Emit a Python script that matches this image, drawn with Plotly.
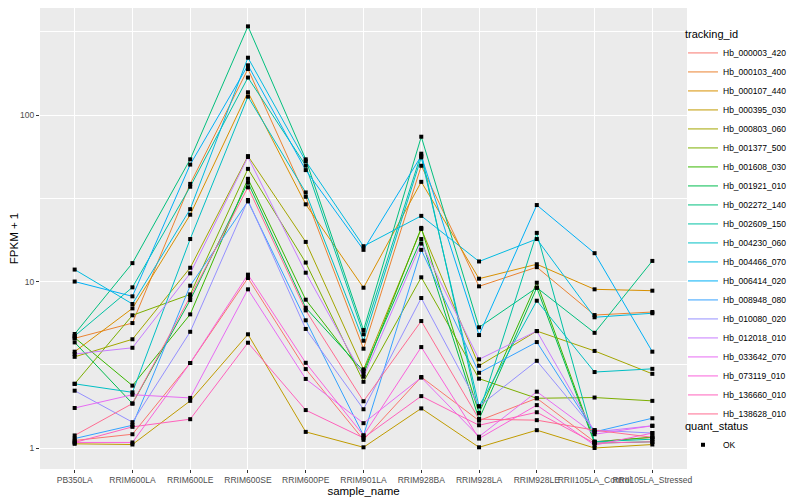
import plotly.graph_objects as go

samples = ["PB350LA", "RRIM600LA", "RRIM600LE", "RRIM600SE", "RRIM600PE", "RRIM901LA",
           "RRIM928BA", "RRIM928LA", "RRIM928LE", "RRII105LA_Control", "RRII105LA_Stressed"]

tracking_ids = ["Hb_000003_420", "Hb_000103_400", "Hb_000107_440", "Hb_000395_030", "Hb_000803_060",
                "Hb_001377_500", "Hb_001608_030", "Hb_001921_010", "Hb_002272_140", "Hb_002609_150",
                "Hb_004230_060", "Hb_004466_070", "Hb_006414_020", "Hb_008948_080", "Hb_010080_020",
                "Hb_012018_010", "Hb_033642_070", "Hb_073119_010", "Hb_136660_010", "Hb_138628_010"]

colors = ["#F8766D", "#EA8331", "#D89000", "#C09B00", "#A3A500", "#7CAE00", "#39B600", "#00BB4E",
          "#00BF7D", "#00C1A3", "#00BFC4", "#00BAE0", "#00B0F6", "#35A2FF", "#9590FF", "#C77CFF",
          "#E76BF3", "#FA62DB", "#FF62BC", "#FF6C91"]

# FPKM + 1 values per gene across samples
Hb_000003_420 = [1.11, 1.21, 3.24, 10.5, 2.98, 1.12, 2.67, 1.46, 1.99, 1.09, 1.16]
Hb_000103_400 = [4.56, 5.63, 38.6, 189, 32.3, 3.95, 49.6, 9.36, 12.2, 6.29, 6.56]
Hb_000107_440 = [3.79, 6.90, 25.2, 137, 29.1, 9.18, 39.7, 10.4, 12.7, 8.98, 8.81]
Hb_000395_030 = [1.06, 1.05, 1.92, 4.82, 1.25, 1.01, 1.73, 1.01, 1.28, 1.00, 1.05]
Hb_000803_060 = [3.53, 4.50, 12.1, 56.7, 17.3, 2.97, 20.7, 3.12, 5.04, 3.83, 2.79]
Hb_001377_500 = [2.43, 6.27, 8.37, 47.5, 13.0, 2.50, 10.6, 2.61, 1.99, 2.01, 1.92]
Hb_001608_030 = [4.60, 2.37, 6.35, 41.4, 7.78, 2.77, 21.0, 1.62, 9.84, 1.09, 1.16]
Hb_001921_010 = [4.31, 1.85, 7.74, 39.3, 6.96, 2.90, 18.0, 1.49, 9.18, 1.07, 1.09]
Hb_002272_140 = [4.84, 12.9, 54.2, 341, 54.2, 5.11, 74.1, 5.31, 9.18, 4.92, 13.3]
Hb_002609_150 = [4.71, 9.23, 37.1, 168, 49.7, 4.82, 58.6, 1.62, 19.6, 1.09, 1.13]
Hb_004230_060 = [2.43, 2.16, 18.0, 129, 34.3, 4.41, 55.7, 1.78, 7.67, 2.86, 2.99]
Hb_004466_070 = [11.8, 7.33, 27.2, 221, 52.8, 16.3, 24.8, 13.2, 18.0, 6.10, 6.45]
Hb_006414_020 = [10.0, 8.15, 50.4, 199, 46.7, 15.5, 56.9, 4.77, 28.8, 14.8, 3.79]
Hb_008948_080 = [1.14, 1.37, 9.44, 30.3, 5.85, 1.19, 15.5, 2.83, 4.33, 1.25, 1.51]
Hb_010080_020 = [2.21, 1.43, 4.99, 30.9, 5.19, 1.71, 7.96, 1.78, 3.34, 1.28, 1.23]
Hb_012018_010 = [3.67, 4.00, 11.2, 56.0, 11.3, 2.68, 16.9, 3.41, 5.04, 1.25, 1.36]
Hb_033642_070 = [1.74, 2.09, 2.00, 8.98, 2.60, 1.41, 2.65, 1.17, 2.18, 1.21, 1.36]
Hb_073119_010 = [1.08, 1.08, 3.24, 11.0, 3.25, 1.19, 4.04, 1.14, 1.81, 1.04, 1.23]
Hb_136660_010 = [1.08, 1.34, 1.49, 4.29, 1.69, 1.15, 2.05, 1.37, 1.64, 1.07, 1.09]
Hb_138628_010 = [1.19, 1.85, 8.11, 36.8, 6.71, 1.91, 5.79, 1.49, 1.47, 1.28, 1.16]

series = [Hb_000003_420, Hb_000103_400, Hb_000107_440, Hb_000395_030, Hb_000803_060,
          Hb_001377_500, Hb_001608_030, Hb_001921_010, Hb_002272_140, Hb_002609_150,
          Hb_004230_060, Hb_004466_070, Hb_006414_020, Hb_008948_080, Hb_010080_020,
          Hb_012018_010, Hb_033642_070, Hb_073119_010, Hb_136660_010, Hb_138628_010]

quant_status = ["OK"]

FONT = "Liberation Sans, Arial, sans-serif"

fig = go.Figure()
for name, vals, col in zip(tracking_ids, series, colors):
    fig.add_trace(go.Scatter(x=samples, y=vals, mode="lines", name=name,
                             line=dict(color=col, width=1), legend="legend"))

all_x = [s for _ in series for s in samples]
all_y = [v for vals in series for v in vals]
fig.add_trace(go.Scatter(x=all_x, y=all_y, mode="markers", name=quant_status[0],
                         marker=dict(symbol="square", size=4, color="black"),
                         legend="legend2"))

# the page body adds an 8px offset, so the figure is 792x492
fig.update_layout(
    width=792, height=492,
    margin=dict(l=32, r=113, t=0, b=31, autoexpand=False),
    paper_bgcolor="white", plot_bgcolor="#EBEBEB",
    font=dict(family=FONT, size=8, color="#000000"),
    showlegend=True,
    legend=dict(title=dict(text="tracking_id", font=dict(size=11)),
                x=0.9938, xanchor="left", y=0.965, yanchor="top",
                font=dict(size=8.5), bgcolor="rgba(0,0,0,0)", itemwidth=30,
                tracegroupgap=0),
    legend2=dict(title=dict(text="quant_status", font=dict(size=11)),
                 x=0.9938, xanchor="left", y=0.115, yanchor="top",
                 font=dict(size=8.5), bgcolor="rgba(0,0,0,0)", itemwidth=30),
    xaxis=dict(type="category", categoryorder="array", categoryarray=samples,
               range=[-0.6, 10.6], showgrid=True, gridcolor="white", gridwidth=1.1,
               zeroline=False, ticks="outside", ticklen=3, tickcolor="#333333",
               tickangle=0, tickfont=dict(size=8.5, color="#4D4D4D"),
               title=dict(text="sample_name", font=dict(size=11.5), standoff=0)),
    yaxis=dict(type="log", range=[-0.126, 2.643], tickvals=[1, 10, 100],
               ticktext=["1", "10", "100"], showgrid=True, gridcolor="white", gridwidth=1.1,
               zeroline=False, ticks="outside", ticklen=3, tickcolor="#333333",
               tickfont=dict(size=8.5, color="#4D4D4D"),
               minor=dict(tickmode="array", tickvals=[3.1623, 31.623, 316.23],
                          showgrid=True, gridcolor="white", gridwidth=0.5, ticks=""),
               title=dict(text="FPKM + 1", font=dict(size=11.5), standoff=6)),
)

fig.write_html("out.html")
